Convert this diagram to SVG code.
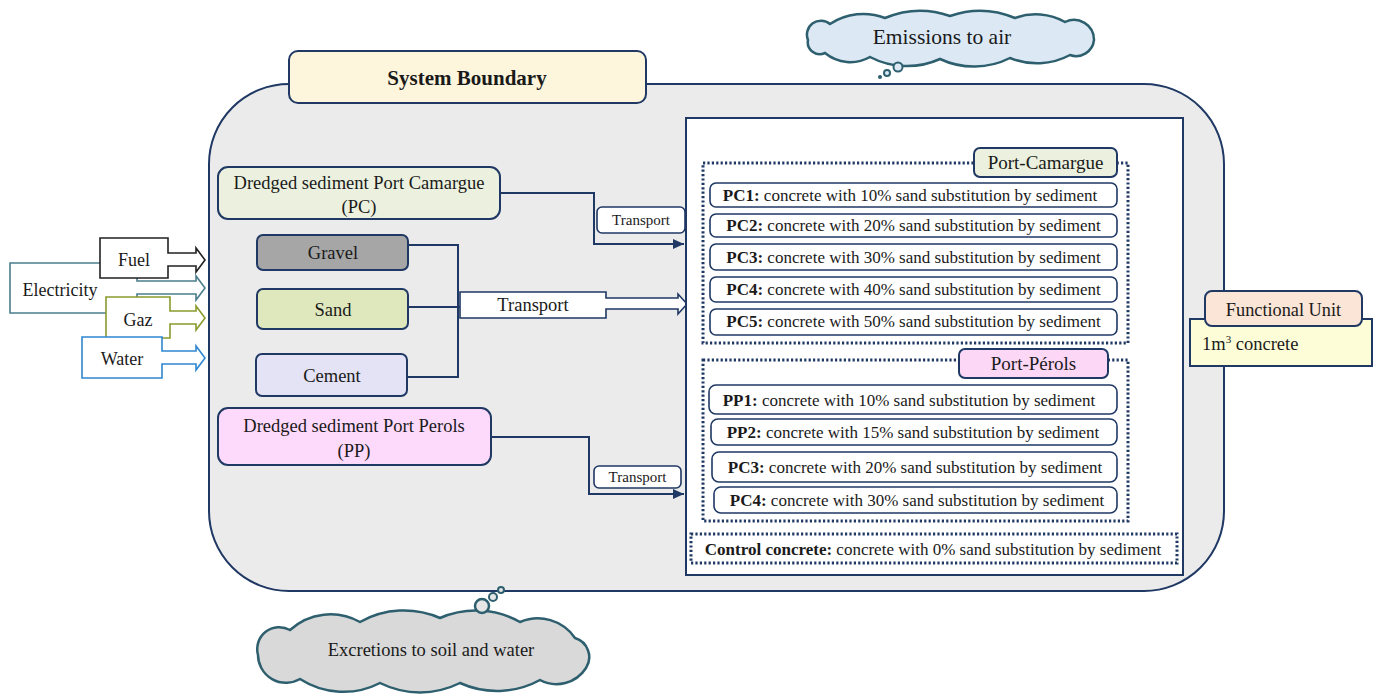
<svg xmlns="http://www.w3.org/2000/svg" width="1378" height="695" viewBox="0 0 1378 695" font-family="'Liberation Serif', 'DejaVu Serif', serif">
<defs>
<style>
text{font-family:'Liberation Serif','DejaVu Serif',serif;fill:#1a1a1a}
.nv{stroke:#1f3864;stroke-width:2}
.row{fill:#fff;stroke:#1f3864;stroke-width:1.6}
.dot{fill:none;stroke:#1f3864;stroke-width:3;stroke-dasharray:2.2 2.2}
.ln{fill:none;stroke:#1f3864;stroke-width:2}
.r{font-size:17px}
.m{font-size:18.5px}
.s{font-size:15px}
.c{text-anchor:middle}
</style>
<marker id="ah" markerUnits="userSpaceOnUse" markerWidth="12" markerHeight="10" refX="11" refY="5" orient="auto">
<path d="M0,0 L11,5 L0,10 Z" fill="#1f3864"/>
</marker>
</defs>
<rect width="1378" height="695" fill="#fff"/>

<g id="emissions">
<path d="M808,40 A14,14 0 0 1 830,24 A60,60 0 0 1 885,18 A90,90 0 0 1 950,16 A90,90 0 0 1 1015,18 A60,60 0 0 1 1065,22 A20,20 0 0 1 1094,40 A18,18 0 0 1 1070,55 A70,70 0 0 1 1010,58 A80,80 0 0 1 940,59 A80,80 0 0 1 870,57 A40,40 0 0 1 825,53 A12,12 0 0 1 808,40 Z" fill="#dce9f5" stroke="#2e5f6e" stroke-width="2.5"/>
<circle cx="898" cy="67" r="4.5" fill="#dce9f5" stroke="#2e5f6e" stroke-width="2"/>
<circle cx="887" cy="73" r="3" fill="#dce9f5" stroke="#2e5f6e" stroke-width="2"/>
<circle cx="880" cy="77" r="2" fill="#2e5f6e"/>
<text x="942" y="44" class="c" font-size="21.5">Emissions to air</text>
</g>

<g id="boundary">
<rect x="209" y="84" width="1015" height="507" rx="80" ry="80" fill="#ebebeb" class="nv"/>
</g>

<g id="excretions">
<path d="M258,655 A22,22 0 0 1 290,630 A60,60 0 0 1 360,622 A90,90 0 0 1 440,618 A90,90 0 0 1 520,622 A45,45 0 0 1 575,638 A20,20 0 0 1 586,668 A35,35 0 0 1 540,680 A90,90 0 0 1 460,683 A90,90 0 0 1 380,683 A80,80 0 0 1 300,679 A28,28 0 0 1 258,655 Z" fill="#d9d9d9" stroke="#2e5f6e" stroke-width="2.5"/>
<circle cx="482" cy="606" r="7" fill="#e6e6e6" stroke="#2e5f6e" stroke-width="2.5"/>
<circle cx="493" cy="597" r="4" fill="#e6e6e6" stroke="#2e5f6e" stroke-width="2"/>
<circle cx="501" cy="590" r="3" fill="#e6e6e6" stroke="#2e5f6e" stroke-width="2"/>
<text x="431" y="656" class="c m">Excretions to soil and water</text>
</g>

<g id="system-boundary-label">
<rect x="289" y="51" width="357" height="52" rx="9" fill="#fdf5dc" class="nv"/>
<text x="467" y="85" class="c" font-size="21" font-weight="bold">System Boundary</text>
</g>

<g id="inputs">
<g id="electricity">
<path d="M10,263 H137 V281 H196 V276 L205,288 L196,300 V294 H137 V313 H10 Z" fill="#fff" stroke="#4a7d8c" stroke-width="1.6"/>
<text x="60" y="296" class="c" font-size="18">Electricity</text>
</g>
<g id="fuel">
<path d="M100,238 H168 V253 H196 V248 L205,260 L196,272 V266 H168 V278 H100 Z" fill="#fff" stroke="#222" stroke-width="1.6"/>
<text x="134" y="266" class="c" font-size="18">Fuel</text>
</g>
<g id="gaz">
<path d="M106,297 H170 V311 H196 V306 L205,318 L196,330 V324 H170 V338 H106 Z" fill="#fff" stroke="#8a9b2c" stroke-width="1.6"/>
<text x="138" y="326" class="c" font-size="18">Gaz</text>
</g>
<g id="water">
<path d="M82,337 H162 V351 H196 V346 L205,358 L196,370 V364 H162 V378 H82 Z" fill="#fff" stroke="#2f86d0" stroke-width="1.6"/>
<text x="122" y="365" class="c" font-size="18">Water</text>
</g>
</g>

<g id="connectors">
<path class="ln" d="M500,193 H594 V244 H684" marker-end="url(#ah)"/>
<path class="ln" d="M408,245 H458 V377 H407"/>
<path class="ln" d="M408,307 H460"/>
<path class="ln" d="M491,437 H589 V494 H684" marker-end="url(#ah)"/>
<path d="M460,292 H606 V298 H678 V294 L687,304 L678,314 V309 H606 V318 H460 Z" fill="#fff" stroke="#1f3864" stroke-width="1.6"/>
<text x="533" y="311" class="c m">Transport</text>
<rect x="597" y="207" width="88" height="26" rx="5" fill="#fff" stroke="#1f3864" stroke-width="1.6"/>
<text x="641" y="225" class="c s">Transport</text>
<rect x="594" y="466" width="87" height="22" rx="5" fill="#fff" stroke="#1f3864" stroke-width="1.6"/>
<text x="637.5" y="482" class="c s">Transport</text>
</g>

<g id="dredged-pc">
<rect x="218" y="167" width="282" height="52" rx="10" fill="#ebf1de" class="nv"/>
<text x="359" y="189" class="c m">Dredged sediment Port Camargue</text>
<text x="359" y="213" class="c m">(PC)</text>
</g>
<g id="gravel">
<rect x="257" y="235" width="151" height="35" rx="6" fill="#a6a6a6" class="nv"/>
<text x="333" y="259" class="c m">Gravel</text>
</g>
<g id="sand">
<rect x="257" y="289" width="151" height="40" rx="6" fill="#dfe7bd" class="nv"/>
<text x="333" y="316" class="c m">Sand</text>
</g>
<g id="cement">
<rect x="256" y="354" width="151" height="42" rx="6" fill="#e3e3f5" class="nv"/>
<text x="332" y="382" class="c m">Cement</text>
</g>
<g id="dredged-pp">
<rect x="218" y="408" width="273" height="57" rx="10" fill="#fdd9fb" class="nv"/>
<text x="354" y="432" class="c m">Dredged sediment Port Perols</text>
<text x="354" y="457" class="c m">(PP)</text>
</g>

<g id="concrete-panel">
<rect x="686" y="118" width="497" height="457" fill="#fff" class="nv"/>
</g>

<g id="port-camargue">
<rect x="703" y="163" width="425" height="180" class="dot"/>
<rect x="974" y="148" width="143" height="29" rx="6" fill="#ebf1de" class="nv"/>
<text x="1045.5" y="169" class="c" font-size="19">Port-Camargue</text>
<rect x="710" y="183" width="407" height="24" rx="6" class="row"/>
<text x="910" y="201" class="c r"><tspan font-weight="bold">PC1:</tspan> concrete with 10% sand substitution by sediment</text>
<rect x="710" y="214" width="407" height="23" rx="6" class="row"/>
<text x="913.5" y="231" class="c r"><tspan font-weight="bold">PC2:</tspan> concrete with 20% sand substitution by sediment</text>
<rect x="710" y="244" width="407" height="26" rx="6" class="row"/>
<text x="913.5" y="263" class="c r"><tspan font-weight="bold">PC3:</tspan> concrete with 30% sand substitution by sediment</text>
<rect x="710" y="277" width="407" height="25" rx="6" class="row"/>
<text x="913.5" y="295" class="c r"><tspan font-weight="bold">PC4:</tspan> concrete with 40% sand substitution by sediment</text>
<rect x="710" y="309" width="407" height="26" rx="6" class="row"/>
<text x="913.5" y="327" class="c r"><tspan font-weight="bold">PC5:</tspan> concrete with 50% sand substitution by sediment</text>
</g>

<g id="port-perols">
<rect x="703" y="360" width="425" height="161" class="dot"/>
<rect x="959" y="349" width="149" height="29" rx="6" fill="#fcd7f6" class="nv"/>
<text x="1033.5" y="370" class="c" font-size="19">Port-Pérols</text>
<rect x="709" y="385" width="408" height="29" rx="7" class="row"/>
<text x="909" y="406" class="c r"><tspan font-weight="bold">PP1:</tspan> concrete with 10% sand substitution by sediment</text>
<rect x="711" y="419" width="406" height="26" rx="7" class="row"/>
<text x="913" y="438" class="c r"><tspan font-weight="bold">PP2:</tspan> concrete with 15% sand substitution by sediment</text>
<rect x="712" y="452" width="405" height="30" rx="7" class="row"/>
<text x="915" y="473" class="c r"><tspan font-weight="bold">PC3:</tspan> concrete with 20% sand substitution by sediment</text>
<rect x="714" y="487" width="403" height="26" rx="7" class="row"/>
<text x="917" y="506" class="c r"><tspan font-weight="bold">PC4:</tspan> concrete with 30% sand substitution by sediment</text>
</g>

<g id="control-concrete">
<rect x="691" y="534" width="486" height="29" class="dot"/>
<text x="933" y="555" class="c r"><tspan font-weight="bold">Control concrete:</tspan> concrete with 0% sand substitution by sediment</text>
</g>

<g id="functional-unit">
<rect x="1190" y="319" width="182" height="47" fill="#fdfdd8" class="nv"/>
<rect x="1205" y="291" width="157" height="35" rx="7" fill="#fbe5d6" class="nv"/>
<text x="1283.5" y="316" class="c" font-size="18.3">Functional Unit</text>
<text x="1202" y="350" font-size="18.5">1m<tspan font-size="11" dy="-7">3</tspan><tspan dy="7"> concrete</tspan></text>
</g>
</svg>
